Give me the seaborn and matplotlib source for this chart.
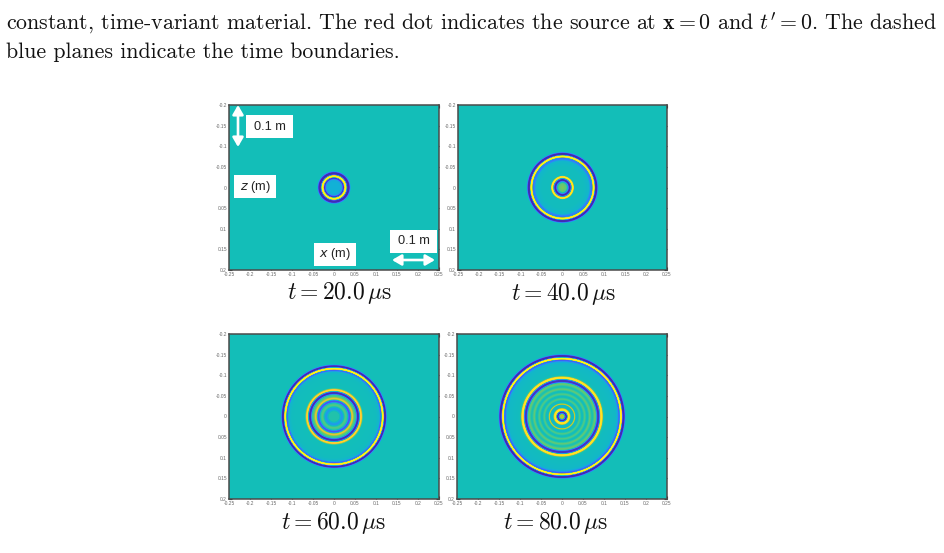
import numpy as np
import pandas as pd
import seaborn as sns
import matplotlib
matplotlib.use("Agg")
import matplotlib.pyplot as plt
from matplotlib.colors import LinearSegmentedColormap
from matplotlib.patches import FancyArrowPatch, Rectangle

W, H = 944, 553

# Radial samples of the field: distance from the source (m) and colour level (0-1)
radii_20 = [0, .014, .0185, .0215, .0235, .0255, .0285, .0300, .0315, .0365, .040, .3]
level_20 = [.36, .36, .33, .05, .05, .98, 1.0, .50, .02, .02, .43, .43]

radii_40 = [0, .010, .014, .0165, .0200, .0225, .0245, .0265, .029, .034, .050, .064, .069, .0715, .0740, .0770, .0780, .0790, .0835, .0865, .3]
level_40 = [.58, .54, .38, .02, .02, .41, .98, .95, .42, .42, .42, .39, .22, .20, .98, 1.0, .40, .02, .02, .43, .43]

radii_60 = [0, .012, .0175, .0205, .0235, .027, .032, .0355, .0385, .041, .0435, .048, .052, .055, .059, .0615, .0635, .0655, .069, .100,
            .1085, .1105, .1125, .1145, .1175, .1185, .1195, .1235, .1265, .3]
level_60 = [.46, .46, .30, .30, .44, .54, .48, .14, .14, .60, .74, .52, .50, .03, .03, .50, .92, .75, .43, .42,
            .38, .18, .16, .98, 1.0, .55, .02, .02, .43, .43]

radii_80 = [0, .0045, .0065, .0085, .0115, .013, .015, .0175, .0215, .0275, .030, .0325, .036, .042, .048, .054, .060, .066, .072, .078,
            .081, .084, .0885, .0905, .0925, .095, .098, .102, .128, .133, .135, .1375, .1385, .1420, .1430, .1440, .1485, .1515, .3]
level_80 = [.64, .64, .45, .03, .03, .45, .98, .90, .40, .40, .74, .44, .38, .54, .40, .54, .40, .56, .43, .56,
            .52, .05, .05, .46, .98, .90, .46, .42, .40, .32, .16, .16, .98, 1.0, .45, .02, .02, .43, .43]

panel_times = ["20.0", "40.0", "60.0", "80.0"]
panel_radii = [radii_20, radii_40, radii_60, radii_80]
panel_level = [level_20, level_40, level_60, level_80]

# Panel frames in pixels: left, right, top, bottom, label centre x, label centre y
panel_boxes = [(229, 439, 105, 270, 340, 293),
               (458, 667, 105, 270, 564, 294),
               (229, 439, 334, 499, 334, 523),
               (457, 667, 334, 499, 556, 523)]

x_ticks = [-.25, -.2, -.15, -.1, -.05, 0, .05, .1, .15, .2, .25]
x_tick_labels = ["-0.25", "-0.2", "-0.15", "-0.1", "-0.05", "0", "0.05", "0.1", "0.15", "0.2", "0.25"]
z_ticks = [-.2, -.15, -.1, -.05, 0, .05, .1, .15, .2]
z_tick_labels = ["-0.2", "-0.15", "-0.1", "-0.05", "0", "0.05", "0.1", "0.15", "0.2"]

parula = LinearSegmentedColormap.from_list(
    "parula_like",
    [(0, (.2422, .1504, .6603)), (.125, (.2810, .3228, .9578)), (.25, (.1786, .5289, .9682)),
     (.36, (.0689, .6948, .8394)), (.43, (.0700, .7450, .7250)), (.5, (.2161, .7843, .5923)),
     (.625, (.6720, .7793, .2227)), (.75, (.9970, .7659, .2199)), (1, (.9769, .9839, .0805))],
)

sns.set_theme(style="white")
plt.rcParams["mathtext.fontset"] = "cm"
plt.rcParams["font.family"] = ["cmr10", "DejaVu Sans"]
plt.rcParams["axes.formatter.use_mathtext"] = True

# Heatmap cells of roughly one device pixel, each averaged over 4x4 samples
n_cols, n_rows, sub = 210, 165, 4
x_fine = (np.arange(n_cols * sub) + .5) / (n_cols * sub) * .5 - .25
z_fine = (np.arange(n_rows * sub) + .5) / (n_rows * sub) * .4 - .2
gx, gz = np.meshgrid(x_fine, z_fine)
dist = np.hypot(gx, gz)

fig = plt.figure(figsize=(W / 100, H / 100), dpi=100, facecolor="white")

grey = "#6a6a6a"
for box, stamp, rr, vv in zip(panel_boxes, panel_times, panel_radii, panel_level):
    left, right, top, bottom, lx, ly = box
    ax = fig.add_axes([left / W, 1 - bottom / H, (right - left) / W, (bottom - top) / H])
    cells = np.interp(dist, rr, vv).reshape(n_rows, sub, n_cols, sub).mean(axis=(1, 3))
    sns.heatmap(pd.DataFrame(cells), ax=ax, cmap=parula, vmin=0, vmax=1, cbar=False,
                xticklabels=False, yticklabels=False, rasterized=True)
    ax.set_xticks((np.array(x_ticks) + .25) / .5 * n_cols)
    ax.set_xticklabels(x_tick_labels, fontfamily="Liberation Sans", fontsize=3.5, color=grey)
    ax.set_yticks((np.array(z_ticks) + .2) / .4 * n_rows)
    ax.set_yticklabels(z_tick_labels, fontfamily="Liberation Sans", fontsize=3.5, color=grey, rotation=0)
    ax.tick_params(axis="both", direction="in", length=2.4, width=.8, color="#2a2a2a",
                   top=True, right=True, bottom=True, left=True, pad=1.5)
    for spine in ax.spines.values():
        spine.set_visible(True)
        spine.set_color("#4a4a4a")
        spine.set_linewidth(1.1)
    ax.set_xlabel(rf"$t = {stamp}\,\mu\mathrm{{s}}$", fontsize=17, color="#111111")
    ax.xaxis.set_label_coords((lx - left) / (right - left), (bottom - ly) / (bottom - top), transform=ax.transAxes)
    ax.xaxis.label.set_va("center")


def px(x, y):
    return x / W, 1 - y / H


def label_box(x0, x1, y0, y1, content, size=9.2):
    fig.add_artist(Rectangle(px(x0, y1), (x1 - x0) / W, (y1 - y0) / H, transform=fig.transFigure,
                             facecolor="white", edgecolor="none", zorder=5))
    fig.text(*px((x0 + x1) / 2, (y0 + y1) / 2), content, ha="center", va="center", fontsize=size,
             fontfamily="Liberation Sans", color="#222222", zorder=6, math_fontfamily="dejavusans")


label_box(246, 293, 115, 138, "0.1 m")
label_box(390, 437, 230, 253, "0.1 m")
label_box(234, 276, 175, 198, r"$z$ (m)")
label_box(314, 356, 243, 266, r"$x$ (m)")

arrow_style = dict(arrowstyle="<|-|>,head_width=0.32,head_length=0.55", color="white", lw=1.9,
                   shrinkA=0, shrinkB=0, mutation_scale=10)
for start, end in [((238, 105), (238, 147)), ((392, 260), (435, 260))]:
    fig.add_artist(FancyArrowPatch(px(*start), px(*end), transform=fig.transFigure, zorder=7, **arrow_style))

# Caption lines above the panels
fig.text(*px(6, 23), r"constant, time-variant material. The red dot indicates the source at $\mathbf{x} = \mathbf{0}$ and $t' = 0$. The dashed",
         fontsize=15.75, va="center", ha="left", color="#111111")
fig.text(*px(6, 52), "blue planes indicate the time boundaries.", fontsize=15.75, va="center", ha="left", color="#111111")

fig.savefig("out.png", dpi=100, facecolor="white")
